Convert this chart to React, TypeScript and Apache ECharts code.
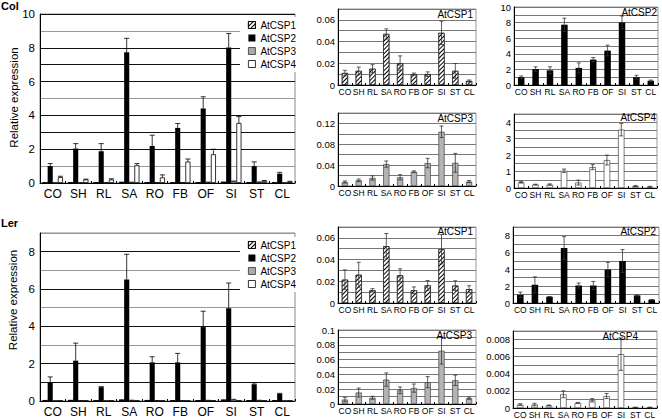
import React, { useEffect, useRef } from 'react';
import * as echarts from 'echarts';

// ---------- data ----------
const categories = ['CO', 'SH', 'RL', 'SA', 'RO', 'FB', 'OF', 'SI', 'ST', 'CL'];
const seriesNames = ['AtCSP1', 'AtCSP2', 'AtCSP3', 'AtCSP4'];

// Col ecotype
const colCSP1 = [0.011, 0.013, 0.015, 0.047, 0.020, 0.010, 0.010, 0.048, 0.013, 0.0037];
const colCSP1Err = [0.0025, 0.0035, 0.0037, 0.0047, 0.0068, 0.0010, 0.0021, 0.0108, 0.0068, 0.0009];
const colCSP2 = [1.0, 2.04, 1.88, 7.73, 2.19, 3.26, 4.41, 8.02, 1.0, 0.55];
const colCSP2Err = [0.15, 0.29, 0.45, 0.83, 0.64, 0.26, 0.69, 0.83, 0.25, 0.08];
const colCSP3 = [0.0077, 0.011, 0.0154, 0.042, 0.0167, 0.0275, 0.044, 0.104, 0.0445, 0.0085];
const colCSP3Err = [0.002, 0.0025, 0.004, 0.006, 0.005, 0.0015, 0.009, 0.011, 0.018, 0.002];
const colCSP4 = [0.35, 0.21, 0.21, 1.05, 0.33, 1.27, 1.7, 3.55, 0.12, 0.08];
const colCSP4Err = [0.05, 0.02, 0.04, 0.1, 0.15, 0.15, 0.3, 0.38, 0.03, 0.02];

// Ler ecotype
const lerCSP1 = [0.0215, 0.026, 0.0117, 0.0523, 0.0255, 0.0117, 0.0162, 0.0495, 0.016, 0.0127];
const lerCSP1Err = [0.009, 0.0115, 0.0015, 0.0117, 0.006, 0.0031, 0.0045, 0.0135, 0.0045, 0.0032];
const lerCSP2 = [0.97, 2.16, 0.74, 6.51, 2.07, 2.07, 3.96, 4.97, 0.9, 0.39];
const lerCSP2Err = [0.32, 0.94, 0.03, 1.35, 0.3, 0.48, 0.85, 1.35, 0.07, 0.02];
const lerCSP3 = [0.006, 0.0155, 0.0085, 0.033, 0.0185, 0.0215, 0.0295, 0.072, 0.032, 0.0078];
const lerCSP3Err = [0.003, 0.006, 0.002, 0.009, 0.0045, 0.0055, 0.0075, 0.018, 0.007, 0.0015];
const lerCSP4 = [0.0004, 0.0004, 0.0003, 0.0016, 0.0006, 0.0009, 0.0014, 0.0063, 0.00008, 0.00008];
const lerCSP4Err = [0.0001, 0.00015, 0.00005, 0.0004, 0.00005, 0.0002, 0.0003, 0.0019, 0.00002, 0.00002];

// ---------- styling ----------
const FONT = '"Liberation Sans Narrow", "Arial Narrow", "Liberation Sans", Arial, sans-serif';
const hatch = {
  symbol: 'rect',
  symbolSize: 1,
  color: '#000',
  dashArrayX: [1, 0],
  dashArrayY: [1, 2],
  rotation: -Math.PI / 4,
};
const mainStyles = [
  { color: '#fff', borderColor: '#000', borderWidth: 0.6, decal: hatch },
  { color: '#000' },
  { color: '#aaa', borderColor: '#333', borderWidth: 0.6 },
  { color: '#fff', borderColor: '#000', borderWidth: 0.8 },
];
const smallStyles = [
  { color: '#fff', borderColor: '#222', borderWidth: 0.6, decal: hatch },
  { color: '#000' },
  { color: '#b4b4b4', borderColor: '#444', borderWidth: 0.7 },
  { color: '#fff', borderColor: '#444', borderWidth: 0.7 },
];

function fmtLabel(step: number) {
  return (v: number) => {
    const q = v / step;
    if (Math.abs(q - Math.round(q)) > 1e-6) return '';
    if (Math.abs(v) < 1e-12) return '0';
    return String(parseFloat(v.toFixed(6)));
  };
}

function buildOption() {
  const grids: any[] = [];
  const xAxes: any[] = [];
  const yAxes: any[] = [];
  const series: any[] = [];

  function addAxes(rect: any, yMax: number, yInterval: number, labelStep: number, main: boolean, lineColors: any) {
    const idx = grids.length;
    grids.push({
      left: rect.left, top: rect.top, width: rect.width, height: rect.height,
      show: true, borderColor: main ? '#888' : '#999', borderWidth: 1,
    });
    xAxes.push({
      type: 'category', gridIndex: idx, data: categories,
      axisLine: { lineStyle: { color: '#000', width: 1 } },
      axisTick: { show: true, inside: true, length: 2, lineStyle: { color: '#000' } },
      axisLabel: {
        fontSize: main ? 12 : 8.5, color: '#000', margin: main ? 5 : 2,
        interval: 0, fontFamily: FONT,
      },
      z: 1,
    });
    yAxes.push({
      type: 'value', gridIndex: idx, min: 0, max: yMax, interval: yInterval,
      axisLine: { show: true, lineStyle: { color: '#000', width: 1 } },
      axisTick: { show: false },
      axisLabel: {
        formatter: fmtLabel(labelStep), fontSize: main ? 11.5 : 9.5, color: '#000',
        margin: main ? 5 : 3, fontFamily: FONT,
      },
      splitLine: { show: true, lineStyle: { color: lineColors, width: 1 } },
      z: 1,
    });
    return idx;
  }

  function errSeries(idx: number, values: number[], errs: number[], k: number, main: boolean) {
    return {
      type: 'custom', xAxisIndex: idx, yAxisIndex: idx, silent: true, z: 10,
      data: values.map((v, i) => [i, v, errs[i]]),
      encode: { x: 0, y: 1 },
      renderItem: (params: any, api: any) => {
        const i = api.value(0);
        const v = api.value(1);
        const e = api.value(2);
        const band = api.size([1, 0])[0];
        const barW = main ? (band * 0.8) / 4 : band * 0.45;
        const base = api.coord([i, v]);
        const cx = base[0] + (main ? (k - 1.5) * barW : 0);
        const yT = api.coord([i, v + e])[1];
        const yB = main ? base[1] : api.coord([i, Math.max(0, v - e)])[1];
        const hw = main ? barW * 0.5 : 2;
        const st = { stroke: main ? '#000' : '#333', lineWidth: 0.8 };
        const children: any[] = [
          { type: 'line', shape: { x1: cx, y1: yT, x2: cx, y2: yB }, style: st },
          { type: 'line', shape: { x1: cx - hw, y1: yT, x2: cx + hw, y2: yT }, style: st },
        ];
        if (!main) children.push({ type: 'line', shape: { x1: cx - hw, y1: yB, x2: cx + hw, y2: yB }, style: st });
        return { type: 'group', children };
      },
    };
  }

  function mainPanel(rect: any, yMax: number, lineColors: any, vals: number[][], errs: number[][]) {
    const idx = addAxes(rect, yMax, 1, 2, true, lineColors);
    vals.forEach((arr, k) => {
      series.push({
        type: 'bar', name: seriesNames[k], xAxisIndex: idx, yAxisIndex: idx,
        data: arr, barGap: '0%', barCategoryGap: '20%', itemStyle: mainStyles[k],
      });
    });
    vals.forEach((arr, k) => series.push(errSeries(idx, arr, errs[k], k, true)));
  }

  function smallPanel(name: string, rect: any, yMax: number, yInterval: number, labelStep: number, k: number, vals: number[], errs: number[]) {
    const idx = addAxes(rect, yMax, yInterval, labelStep, false, '#777');
    series.push({
      type: 'bar', name, xAxisIndex: idx, yAxisIndex: idx, data: vals,
      barWidth: '45%', itemStyle: smallStyles[k],
    });
    series.push(errSeries(idx, vals, errs, k, false));
  }

  const colGridColors = ['#111', '#999', '#111', '#111'];
  const lerGridColors = ['#111', '#111', '#111', '#999', '#111', '#999', '#111', '#999', '#111', '#999'];

  mainPanel({ left: 40, top: 14, width: 255, height: 169 }, 10, colGridColors,
    [colCSP1, colCSP2, colCSP3, colCSP4], [colCSP1Err, colCSP2Err, colCSP3Err, colCSP4Err]);
  mainPanel({ left: 40, top: 233, width: 255, height: 168 }, 9, lerGridColors,
    [lerCSP1, lerCSP2, lerCSP3, lerCSP4], [lerCSP1Err, lerCSP2Err, lerCSP3Err, lerCSP4Err]);

  smallPanel('colP1', { left: 338, top: 9, width: 138, height: 76 }, 0.07, 0.01, 0.02, 0, colCSP1, colCSP1Err);
  smallPanel('colP2', { left: 514, top: 7, width: 144, height: 78 }, 10, 1, 2, 1, colCSP2, colCSP2Err);
  smallPanel('colP3', { left: 338, top: 113, width: 138, height: 73 }, 0.14, 0.02, 0.04, 2, colCSP3, colCSP3Err);
  smallPanel('colP4', { left: 514, top: 114, width: 143, height: 74 }, 4.5, 0.5, 1, 3, colCSP4, colCSP4Err);
  smallPanel('lerP1', { left: 338, top: 227, width: 138, height: 76 }, 0.07, 0.01, 0.02, 0, lerCSP1, lerCSP1Err);
  smallPanel('lerP2', { left: 513, top: 227, width: 146, height: 76 }, 9, 1, 2, 1, lerCSP2, lerCSP2Err);
  smallPanel('lerP3', { left: 338, top: 330, width: 138, height: 74 }, 0.1, 0.01, 0.02, 2, lerCSP3, lerCSP3Err);
  smallPanel('lerP4', { left: 513, top: 331, width: 144, height: 78 }, 0.009, 0.001, 0.002, 3, lerCSP4, lerCSP4Err);

  const legendBase = {
    data: seriesNames, orient: 'vertical', itemWidth: 7, itemHeight: 7, itemGap: 3,
    icon: 'rect', padding: [3, 5, 3, 8], selectedMode: false,
    backgroundColor: '#fff',
    textStyle: { fontSize: 10, fontFamily: FONT, color: '#000', lineHeight: 10 },
    itemStyle: { borderWidth: 0.8 },
    z: 30,
  };

  const titleFont = `10px ${FONT}`;
  const panelTitle = (text: string, x: number, y: number) => ({
    type: 'text', x, y, z: 20,
    style: { text, font: titleFont, fill: '#000', align: 'right', verticalAlign: 'middle' },
  });

  const graphic = {
    z: 25,
    elements: [
      { type: 'rect', z: 25, shape: { x: 241, y: 18, width: 53, height: 50 }, style: { fill: '#fff' } },
      { type: 'rect', z: 25, shape: { x: 241, y: 238, width: 53, height: 49 }, style: { fill: '#fff' } },
      { type: 'text', x: 1, y: 6, style: { text: 'Col', font: 'bold 11px "Liberation Sans", Arial, sans-serif', fill: '#000', verticalAlign: 'middle' } },
      { type: 'text', x: 1, y: 223, style: { text: 'Ler', font: 'bold 11px "Liberation Sans", Arial, sans-serif', fill: '#000', verticalAlign: 'middle' } },
      { type: 'text', x: 13.5, y: 97.5, rotation: Math.PI / 2, style: { text: 'Relative expression', font: `11.5px "Liberation Sans", Arial, sans-serif`, fill: '#000', align: 'center', verticalAlign: 'middle' } },
      { type: 'text', x: 13, y: 300, rotation: Math.PI / 2, style: { text: 'Relative expression', font: `11.5px "Liberation Sans", Arial, sans-serif`, fill: '#000', align: 'center', verticalAlign: 'middle' } },
      panelTitle('AtCSP1', 473, 14.5),
      panelTitle('AtCSP2', 657, 12),
      panelTitle('AtCSP3', 473, 118),
      panelTitle('AtCSP4', 656, 117),
      panelTitle('AtCSP1', 473, 231),
      panelTitle('AtCSP2', 656, 231),
      panelTitle('AtCSP3', 472, 335),
      panelTitle('AtCSP4', 638, 336),
    ],
  };

  return {
    animation: false,
    backgroundColor: '#fff',
    grid: grids,
    xAxis: xAxes,
    yAxis: yAxes,
    series,
    legend: [
      { ...legendBase, left: 240, top: 17 },
      { ...legendBase, left: 240, top: 237 },
    ],
    graphic,
  };
}

export default function App() {
  const ref = useRef<HTMLDivElement>(null);
  useEffect(() => {
    if (!ref.current) return;
    const chart = echarts.init(ref.current, undefined, { renderer: 'svg' });
    chart.setOption(buildOption() as any);
    return () => chart.dispose();
  }, []);
  return (
    <div
      ref={ref}
      style={{ position: 'absolute', left: 0, top: 0, width: 662, height: 419, background: '#fff' }}
    />
  );
}
